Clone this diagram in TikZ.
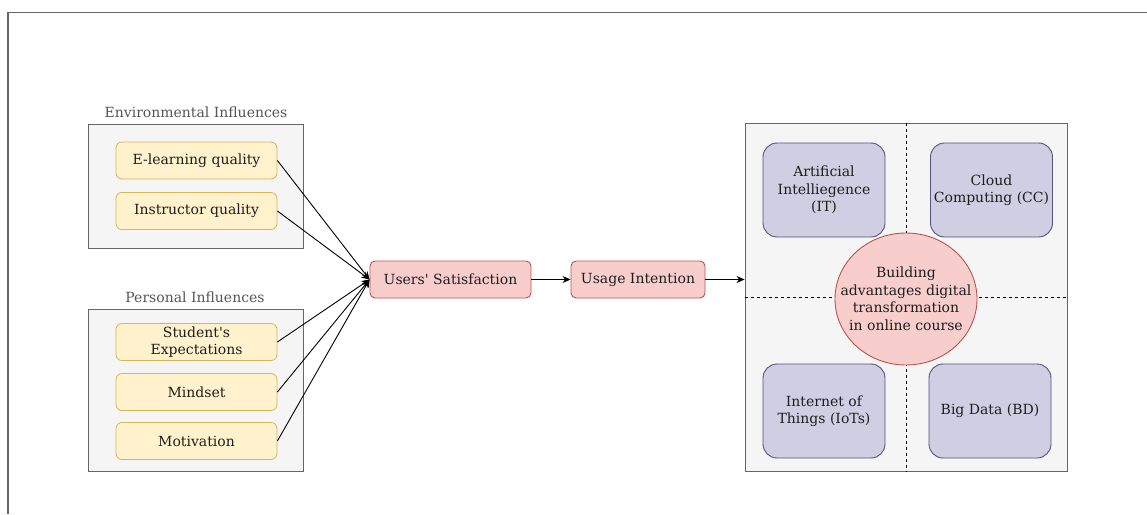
\documentclass[tikz,border=0pt]{standalone}
\usepackage{fontspec}
\setmainfont{DejaVu Serif}[Ligatures=TeXOff]
\usetikzlibrary{arrows.meta,shapes.geometric}

\definecolor{grpfill}{HTML}{F5F5F5}
\definecolor{grpline}{HTML}{666666}
\definecolor{yelfill}{HTML}{FFF2CC}
\definecolor{yelline}{HTML}{D6B656}
\definecolor{redfill}{HTML}{F8CECC}
\definecolor{redline}{HTML}{B85450}
\definecolor{purfill}{HTML}{D0CEE2}
\definecolor{purline}{HTML}{56517E}
\definecolor{txt}{HTML}{1E1E1E}
\definecolor{ttl}{HTML}{555555}

\tikzset{
  base/.style={font=\fontsize{14}{17.5}\selectfont, text=txt, align=center, inner sep=0pt},
  group/.style={draw=grpline, fill=grpfill, line width=0.9pt, inner sep=0pt},
  grouptitle/.style={font=\fontsize{14}{17.5}\selectfont, text=ttl, inner sep=0pt},
  factor/.style={base, draw=yelline, fill=yelfill, rounded corners=6pt, minimum width=161pt, minimum height=37pt, line width=0.8pt},
  stage/.style={base, draw=redline, fill=redfill, rounded corners=5pt, minimum height=37pt, line width=0.9pt},
  tech/.style={base, draw=purline, fill=purfill, rounded corners=14pt, minimum width=122pt, minimum height=94pt, line width=0.9pt},
  hub/.style={ellipse, draw=redline, fill=redfill, inner sep=0pt, minimum width=142pt, minimum height=132pt, line width=0.9pt},
  link/.style={draw=black, line width=0.9pt, -{Stealth[length=8pt,width=7pt]}},
  divider/.style={draw=black, line width=0.8pt, dash pattern=on 3pt off 3pt},
}

\begin{document}
\begin{tikzpicture}[x=1pt,y=-1pt]
\useasboundingbox (0,0) rectangle (1147,514);

% page frame
\draw[grpline, line width=1.2pt] (1147,12.5) -- (8,12.5) -- (8,514);

% environmental influences
\node[group, minimum width=215pt, minimum height=124pt] (envgrp) at (195.5,186) {};
\node[grouptitle, anchor=base] (envttl) at (196,117) {Environmental Influences};
\node[factor] (elq) at (196.5,160.5) {E-learning quality};
\node[factor] (inq) at (196.5,211) {Instructor quality};

% personal influences
\node[group, minimum width=215pt, minimum height=162pt] (pergrp) at (195.5,390) {};
\node[grouptitle, anchor=base] (perttl) at (195,302) {Personal Influences};
\node[factor] (exp) at (196.5,342) {Student's\\Expectations};
\node[factor] (mind) at (196.5,392) {Mindset};
\node[factor] (moti) at (196.5,441) {Motivation};

% stages
\node[stage, minimum width=161pt] (sat) at (450.5,279.5) {Users' Satisfaction};
\node[stage, minimum width=134pt] (use) at (638,279.5) {Usage Intention};

% technology panel
\node[group, minimum width=322pt, minimum height=348pt] (panel) at (906,297) {};
\draw[divider] (906,123) -- (906,472);
\draw[divider] (745,297) -- (1067,297);
\node[tech] (ai) at (824,190) {Artificial\\Intelliegence\\(IT)};
\node[tech] (cc) at (991.5,190) {Cloud\\Computing (CC)};
\node[tech] (iot) at (824,411) {Internet of\\Things (IoTs)};
\node[tech] (bd) at (990,411) {Big Data (BD)};
\node[hub] (hub) at (906,299) {};
\node[base] (hubtext) at (hub.center) {Building\\advantages digital\\transformation\\in online course};

% connectors
\foreach \s in {elq,inq,exp,mind,moti}
  \draw[link] (\s.east) -- (sat.west);
\draw[link] (sat) -- (use);
\draw[link] (use.east) -- (use.east -| panel.west);
\end{tikzpicture}
\end{document}
